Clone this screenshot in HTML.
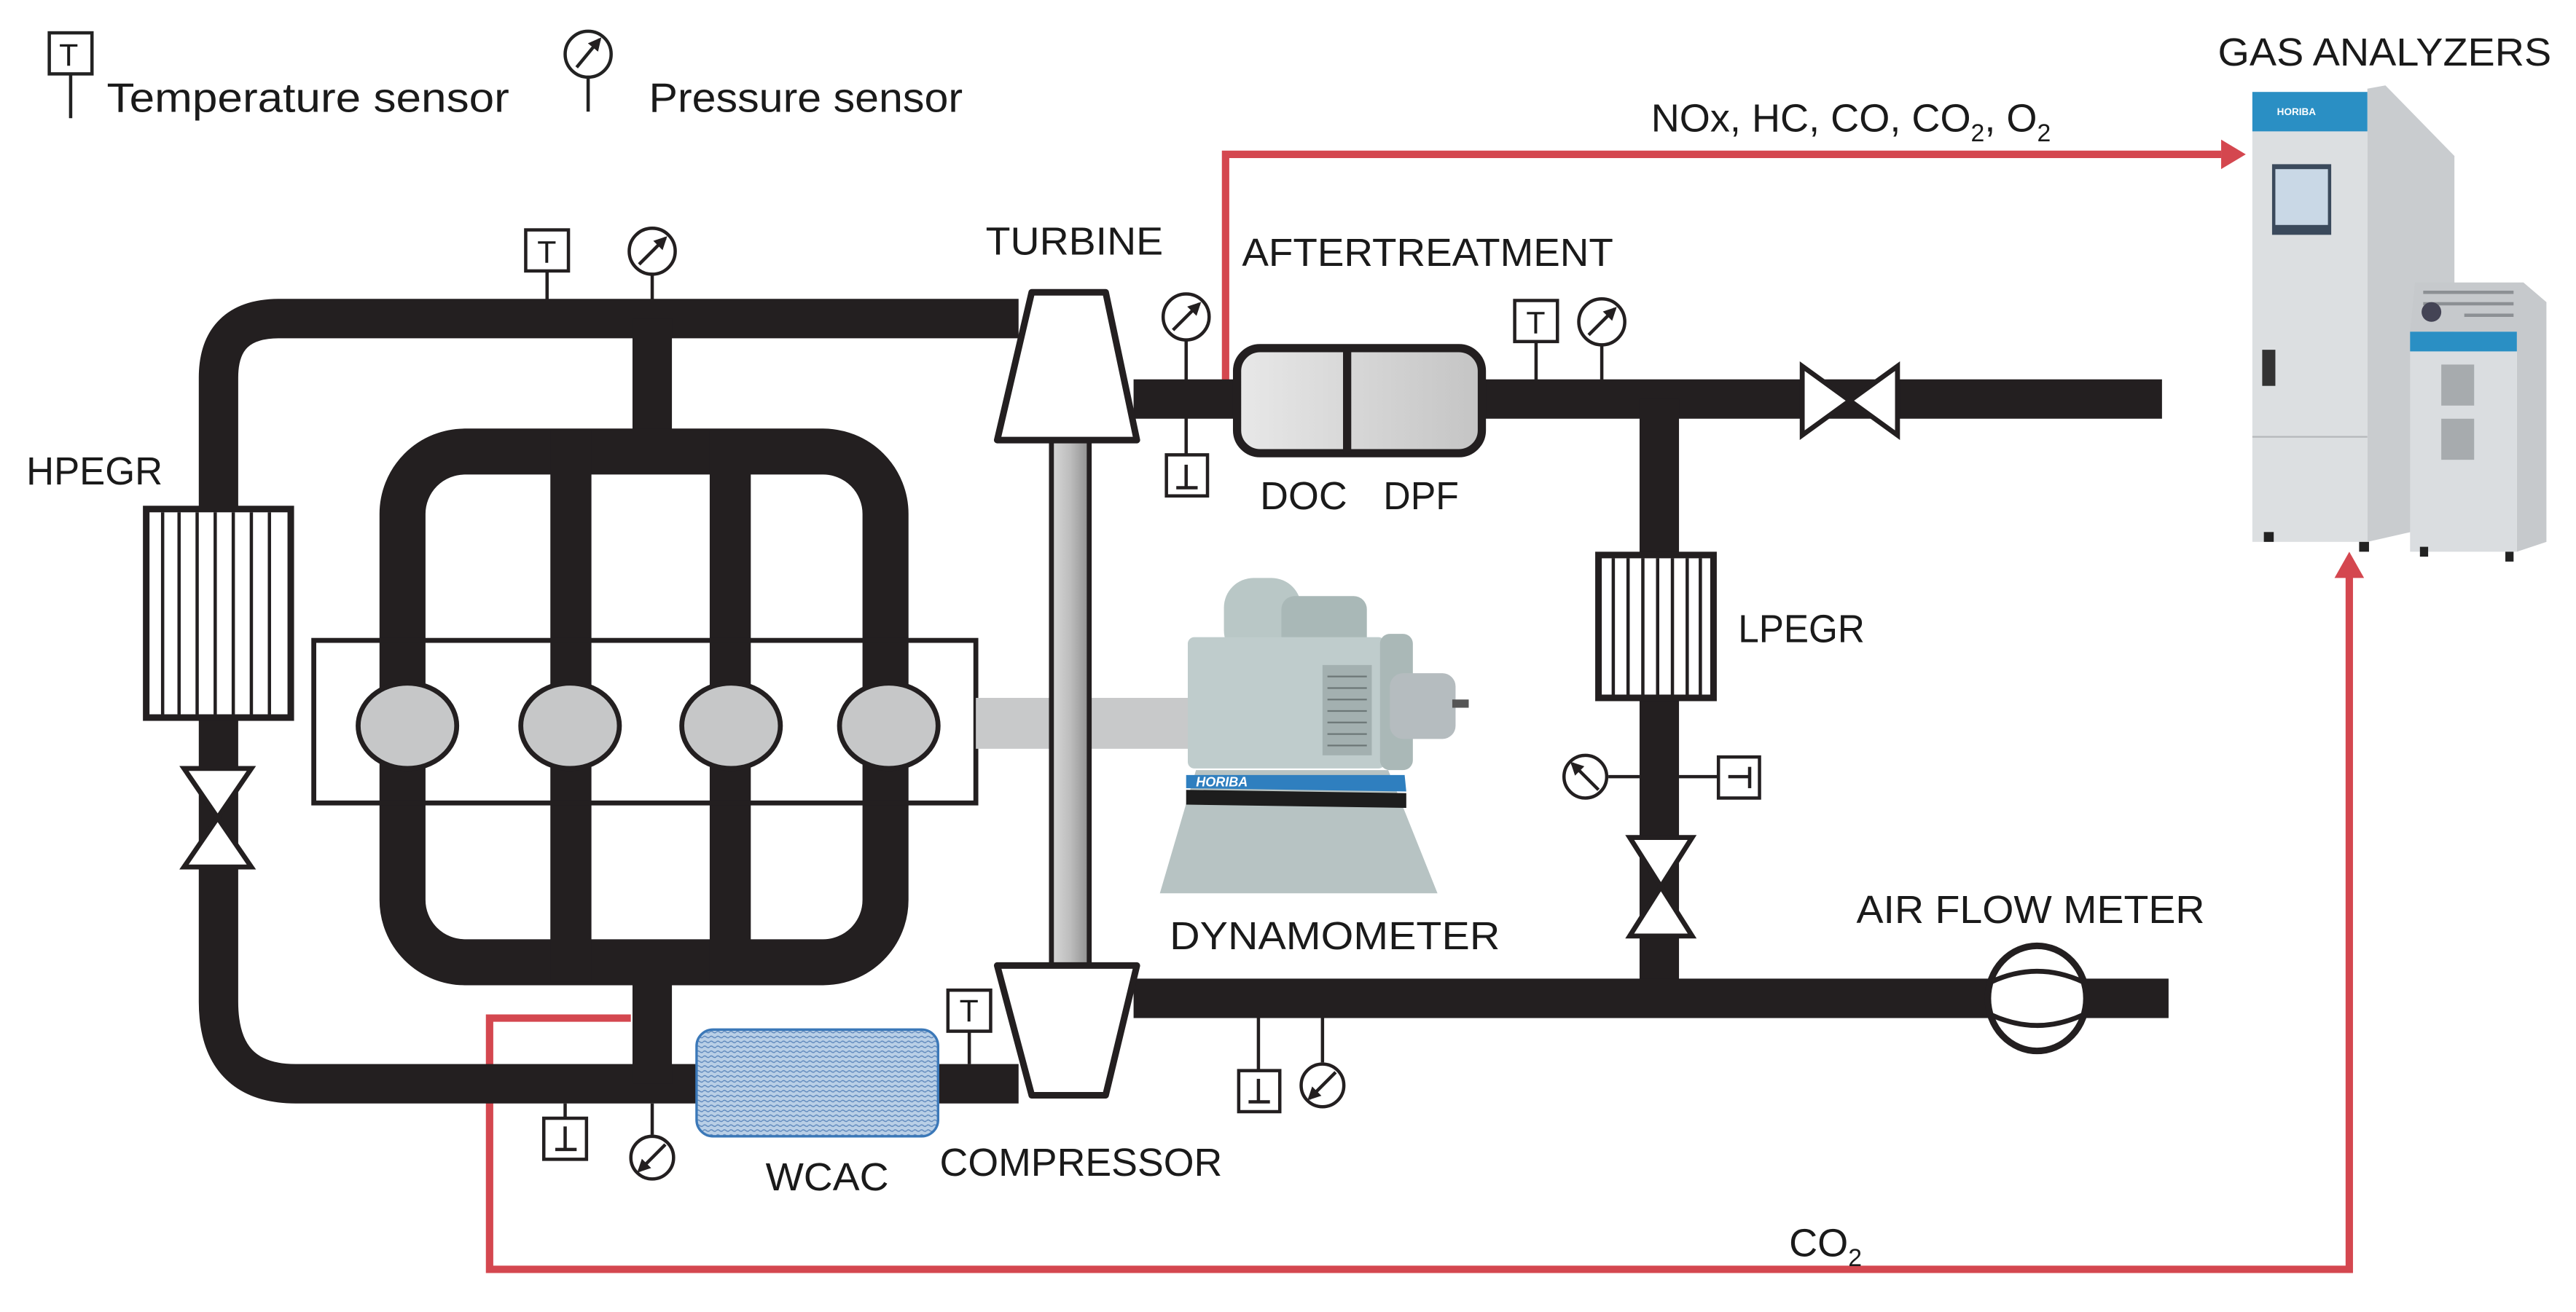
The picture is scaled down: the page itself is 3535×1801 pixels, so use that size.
<!DOCTYPE html>
<html><head><meta charset="utf-8"><style>
html,body{margin:0;padding:0;background:#fff;}
svg{display:block;}
text{font-family:"Liberation Sans",sans-serif;fill:#1a1a1a;}
</style></head><body>
<svg width="3535" height="1801" viewBox="0 0 1568 799" preserveAspectRatio="none" xmlns="http://www.w3.org/2000/svg">
<defs>
<linearGradient id="at" x1="0" x2="1"><stop offset="0" stop-color="#e8e8e8"/><stop offset="1" stop-color="#c4c4c4"/></linearGradient>
<linearGradient id="sh" x1="0" x2="1"><stop offset="0" stop-color="#d8d8d8"/><stop offset="0.5" stop-color="#bdbdbd"/><stop offset="1" stop-color="#8e8e8e"/></linearGradient>
<pattern id="wc" width="4" height="3" patternUnits="userSpaceOnUse"><rect width="4" height="3" fill="#b9cfe6"/><path d="M0 1.5 Q1 0.5 2 1.5 T4 1.5" stroke="#5b86bb" stroke-width="0.6" fill="none"/></pattern>
<marker id="ah" viewBox="0 0 10 10" refX="8" refY="5" markerWidth="4" markerHeight="4" orient="auto"><path d="M0,0 L10,5 L0,10 z" fill="#231f20"/></marker>
</defs>

<!-- legend -->
<rect x="30" y="20" width="26" height="25" fill="#fff" stroke="#222" stroke-width="2"/>
<text x="36" y="40" font-size="19">T</text>
<line x1="43" y1="45" x2="43" y2="72" stroke="#222" stroke-width="2"/>
<text x="65" y="68" font-size="25" textLength="245" lengthAdjust="spacingAndGlyphs">Temperature sensor</text>
<circle cx="358" cy="33" r="14" fill="#fff" stroke="#222" stroke-width="2"/>
<line x1="351" y1="41" x2="365" y2="24" stroke="#222" stroke-width="2" marker-end="url(#ah)"/>
<line x1="358" y1="47" x2="358" y2="68" stroke="#222" stroke-width="2"/>
<text x="395" y="68" font-size="25" textLength="191" lengthAdjust="spacingAndGlyphs">Pressure sensor</text>

<!-- red sample lines -->
<g stroke="#d4474f" stroke-width="4.5" fill="none">
<polyline points="746,243 746,94 1352,94"/>
<polyline points="384,620 298,620 298,773 1430,773 1430,350"/>
</g>
<polygon points="1352,85 1367,94 1352,103" fill="#d4474f"/>
<polygon points="1421,352 1430,336 1439,352" fill="#d4474f"/>

<!-- pipes -->
<g stroke="#231f20" stroke-width="24" fill="none">
<path d="M620,194 L170,194 Q133,194 133,230 L133,320"/>
<path d="M133,430 L133,610 Q133,660 180,660 L620,660"/>
<line x1="397" y1="194" x2="397" y2="262"/>
<line x1="397" y1="598" x2="397" y2="660"/>
<line x1="690" y1="243" x2="1316" y2="243"/>
<line x1="1010" y1="243" x2="1010" y2="608"/>
<line x1="690" y1="608" x2="1320" y2="608"/>
</g>
<!-- engine -->
<rect x="245" y="275" width="294" height="311" rx="38" fill="none" stroke="#231f20" stroke-width="28"/>
<rect x="335" y="262" width="25" height="336" fill="#231f20"/>
<rect x="432" y="262" width="25" height="336" fill="#231f20"/>
<rect x="191" y="390" width="403" height="99" fill="none" stroke="#231f20" stroke-width="3"/>
<rect x="594" y="425" width="135" height="31" fill="#c8c9ca"/>
<g fill="#c6c7c8" stroke="#231f20" stroke-width="3">
<ellipse cx="248" cy="442" rx="30" ry="26"/>
<ellipse cx="347" cy="442" rx="30" ry="26"/>
<ellipse cx="445" cy="442" rx="30" ry="26"/>
<ellipse cx="541" cy="442" rx="30" ry="26"/>
</g>
<!-- HPEGR cooler -->
<rect x="89" y="310" width="88" height="127" fill="#fff" stroke="#231f20" stroke-width="4"/>
<g stroke="#231f20" stroke-width="2">
<line x1="99" y1="312" x2="99" y2="435"/><line x1="109" y1="312" x2="109" y2="435"/><line x1="120" y1="312" x2="120" y2="435"/><line x1="131" y1="312" x2="131" y2="435"/><line x1="142" y1="312" x2="142" y2="435"/><line x1="153" y1="312" x2="153" y2="435"/><line x1="164" y1="312" x2="164" y2="435"/>
</g>
<!-- HPEGR valve -->
<polygon points="112,468 153,468 112,528 153,528" fill="#fff" stroke="#231f20" stroke-width="3"/>
<!-- WCAC -->
<rect x="424" y="627" width="147" height="65" rx="10" fill="url(#wc)" stroke="#3b78b8" stroke-width="1.5"/>
<!-- shaft -->
<rect x="640" y="266" width="23" height="324" fill="url(#sh)" stroke="#231f20" stroke-width="3"/>
<!-- turbine / compressor -->
<polygon points="628,178 673,178 692,268 607,268" fill="#fff" stroke="#231f20" stroke-width="4" stroke-linejoin="round"/>
<polygon points="607,588 692,588 673,667 628,667" fill="#fff" stroke="#231f20" stroke-width="4" stroke-linejoin="round"/>
<!-- aftertreatment -->
<rect x="753" y="212" width="149" height="64" rx="14" fill="url(#at)" stroke="#231f20" stroke-width="5"/>
<line x1="820" y1="212" x2="820" y2="276" stroke="#231f20" stroke-width="5"/>
<!-- exhaust valve -->
<polygon points="1097,223 1097,265 1155,223 1155,265" fill="#fff" stroke="#231f20" stroke-width="3"/>
<!-- LPEGR cooler -->
<rect x="973" y="338" width="70" height="87" fill="#fff" stroke="#231f20" stroke-width="4"/>
<g stroke="#231f20" stroke-width="2">
<line x1="982" y1="340" x2="982" y2="423"/><line x1="991" y1="340" x2="991" y2="423"/><line x1="1000" y1="340" x2="1000" y2="423"/><line x1="1009" y1="340" x2="1009" y2="423"/><line x1="1018" y1="340" x2="1018" y2="423"/><line x1="1027" y1="340" x2="1027" y2="423"/><line x1="1035" y1="340" x2="1035" y2="423"/>
</g>
<!-- LPEGR valve -->
<polygon points="992,510 1030,510 992,570 1030,570" fill="#fff" stroke="#231f20" stroke-width="3"/>
<!-- air flow meter -->
<ellipse cx="1240" cy="608" rx="30" ry="32" fill="#fff" stroke="#231f20" stroke-width="4"/>
<path d="M1212,598 Q1240,585 1268,598 M1212,618 Q1240,631 1268,618" stroke="#231f20" stroke-width="3" fill="none"/>

<!-- sensors -->
<g stroke="#231f20" stroke-width="2" fill="#fff">
<line x1="333" y1="165" x2="333" y2="183"/><rect x="320" y="140" width="26" height="25"/>
<line x1="397" y1="167" x2="397" y2="183"/><circle cx="397" cy="153" r="14"/>
<line x1="722" y1="207" x2="722" y2="232"/><circle cx="722" cy="193" r="14"/>
<line x1="722" y1="254" x2="722" y2="277"/><rect x="710" y="277" width="25" height="25"/>
<line x1="935" y1="208" x2="935" y2="232"/><rect x="922" y="183" width="26" height="25"/>
<line x1="975" y1="210" x2="975" y2="232"/><circle cx="975" cy="196" r="14"/>
<line x1="979" y1="473" x2="998" y2="473"/><circle cx="965" cy="473" r="13"/>
<line x1="1022" y1="473" x2="1046" y2="473"/><rect x="1046" y="461" width="25" height="25"/>
<line x1="590" y1="628" x2="590" y2="648"/><rect x="577" y="603" width="26" height="25"/>
<line x1="766" y1="620" x2="766" y2="652"/><rect x="754" y="652" width="25" height="25"/>
<line x1="805" y1="620" x2="805" y2="647"/><circle cx="805" cy="661" r="13"/>
<line x1="344" y1="672" x2="344" y2="681"/><rect x="331" y="681" width="26" height="25"/>
<line x1="397" y1="672" x2="397" y2="691"/><circle cx="397" cy="705" r="13"/>
</g>
<g stroke="#231f20" stroke-width="2" fill="none">
<line x1="389" y1="161" x2="405" y2="145" marker-end="url(#ah)"/><line x1="714" y1="201" x2="730" y2="185" marker-end="url(#ah)"/><line x1="967" y1="204" x2="983" y2="188" marker-end="url(#ah)"/>
<line x1="973" y1="481" x2="957" y2="465" marker-end="url(#ah)"/><line x1="813" y1="653" x2="797" y2="669" marker-end="url(#ah)"/><line x1="405" y1="697" x2="389" y2="713" marker-end="url(#ah)"/>
<line x1="722" y1="283" x2="722" y2="297"/><line x1="716" y1="297" x2="729" y2="297"/>
<line x1="766" y1="657" x2="766" y2="671"/><line x1="760" y1="671" x2="773" y2="671"/>
<line x1="344" y1="686" x2="344" y2="700"/><line x1="338" y1="700" x2="351" y2="700"/>
<line x1="1052" y1="473" x2="1065" y2="473"/><line x1="1065" y1="467" x2="1065" y2="480"/>
</g>
<g font-size="19"><text x="327" y="160">T</text><text x="929" y="203">T</text><text x="584" y="622">T</text></g>

<!-- dynamometer -->
<g>
<polygon points="728,469 845,469 875,544 706,544" fill="#b7c3c3"/>
<polygon points="722,472 855,472 856,482 722,480" fill="#2f7fbf"/>
<polygon points="722,481 856,483 856,492 722,490" fill="#1d1d1d"/>
<text x="728" y="479" font-size="8" font-style="italic" font-weight="bold" style="fill:#fff">HORIBA</text>
<rect x="745" y="352" width="47" height="50" rx="18" fill="#b9c7c6"/>
<rect x="780" y="363" width="52" height="33" rx="8" fill="#a9b8b7"/>
<rect x="806" y="393" width="49" height="13" fill="#c3cdcd"/>
<rect x="723" y="388" width="120" height="80" rx="4" fill="#bfcccc"/>
<rect x="840" y="386" width="20" height="83" rx="6" fill="#aab8b7"/>
<rect x="805" y="405" width="30" height="55" fill="#a3b0b0"/>
<g stroke="#6c7777" stroke-width="1"><line x1="808" y1="412" x2="832" y2="412"/><line x1="808" y1="419" x2="832" y2="419"/><line x1="808" y1="426" x2="832" y2="426"/><line x1="808" y1="433" x2="832" y2="433"/><line x1="808" y1="440" x2="832" y2="440"/><line x1="808" y1="447" x2="832" y2="447"/><line x1="808" y1="454" x2="832" y2="454"/></g>
<rect x="846" y="410" width="40" height="40" rx="8" fill="#b5bcbf"/>
<rect x="884" y="426" width="10" height="5" fill="#555"/>
</g>

<!-- gas analyzers -->
<g>
<polygon points="1441,54 1452,52 1494,95 1494,318 1441,330" fill="#c9cccf"/>
<rect x="1371" y="56" width="70" height="274" fill="#dcdfe1"/>
<rect x="1371" y="56" width="70" height="24" fill="#2a8fc4"/>
<text x="1386" y="70" font-size="6" font-weight="bold" style="fill:#fff">HORIBA</text>
<rect x="1383" y="100" width="36" height="43" fill="#3b4a5c"/>
<rect x="1385" y="103" width="32" height="34" fill="#c9d8e6"/>
<line x1="1371" y1="266" x2="1441" y2="266" stroke="#b5b8bb"/>
<rect x="1377" y="213" width="8" height="22" fill="#333"/>
<rect x="1378" y="324" width="6" height="6" fill="#222"/><rect x="1436" y="330" width="6" height="6" fill="#222"/>
<polygon points="1470,172 1536,172 1550,184 1550,330 1532,336 1532,202 1467,202" fill="#c6c9cc"/>
<g stroke="#8c9094" stroke-width="2"><line x1="1475" y1="178" x2="1530" y2="178"/><line x1="1475" y1="185" x2="1530" y2="185"/><line x1="1500" y1="192" x2="1530" y2="192"/></g>
<circle cx="1480" cy="190" r="6" fill="#445" />
<rect x="1467" y="202" width="65" height="134" fill="#dadde0"/>
<rect x="1467" y="202" width="65" height="12" fill="#2a8fc4"/>
<rect x="1486" y="222" width="20" height="25" fill="#a7abae"/>
<rect x="1486" y="255" width="20" height="25" fill="#a7abae"/>
<rect x="1473" y="333" width="5" height="6" fill="#222"/><rect x="1525" y="336" width="5" height="6" fill="#222"/>
</g>

<!-- labels -->
<g font-size="24">
<text x="600" y="155" textLength="108" lengthAdjust="spacingAndGlyphs">TURBINE</text>
<text x="756" y="162" textLength="226" lengthAdjust="spacingAndGlyphs">AFTERTREATMENT</text>
<text x="767" y="310" textLength="53" lengthAdjust="spacingAndGlyphs">DOC</text>
<text x="842" y="310" textLength="46" lengthAdjust="spacingAndGlyphs">DPF</text>
<text x="16" y="295" textLength="83" lengthAdjust="spacingAndGlyphs">HPEGR</text>
<text x="1058" y="391" textLength="77" lengthAdjust="spacingAndGlyphs">LPEGR</text>
<text x="712" y="578" textLength="201" lengthAdjust="spacingAndGlyphs">DYNAMOMETER</text>
<text x="1130" y="562" textLength="212" lengthAdjust="spacingAndGlyphs">AIR FLOW METER</text>
<text x="466" y="725" textLength="75" lengthAdjust="spacingAndGlyphs">WCAC</text>
<text x="572" y="716" textLength="172" lengthAdjust="spacingAndGlyphs">COMPRESSOR</text>
<text x="1089" y="765">CO<tspan font-size="15" dy="6">2</tspan></text>
<text x="1005" y="80">NOx, HC, CO, CO<tspan font-size="15" dy="6">2</tspan><tspan dy="-6">, O</tspan><tspan font-size="15" dy="6">2</tspan></text>
<text x="1350" y="40" textLength="203" lengthAdjust="spacingAndGlyphs">GAS ANALYZERS</text>
</g>
</svg>
</body></html>
